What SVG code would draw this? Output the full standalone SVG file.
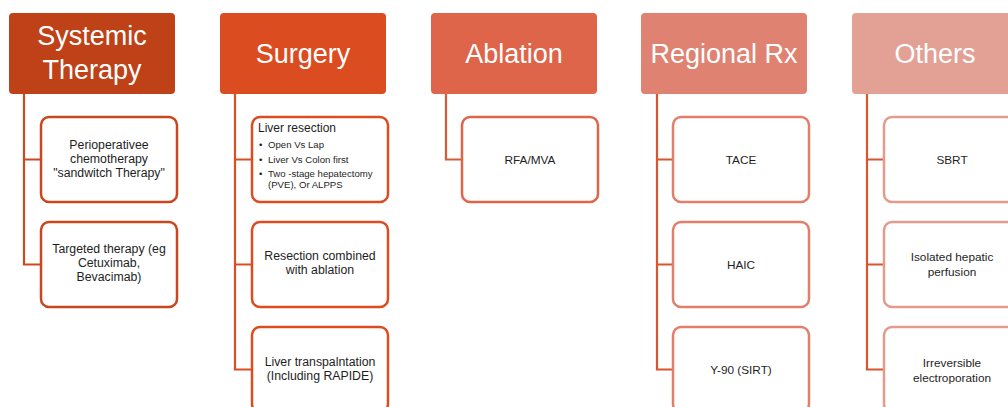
<svg xmlns="http://www.w3.org/2000/svg" width="1008" height="407" viewBox="0 0 1008 407">
<style>
.hd{font-family:"Liberation Sans",Arial,sans-serif;font-size:27px;fill:#ffffff;text-anchor:middle}
.ch{font-family:"Liberation Sans",Arial,sans-serif;font-size:12.3px;fill:#1e1e1e;text-anchor:middle}
.sm{font-size:11.8px}
.bl{font-family:"Liberation Sans",Arial,sans-serif;font-size:9.6px;fill:#1e1e1e}
.box{fill:#ffffff;stroke-width:2.5}
.con{fill:none;stroke-width:2.2}
</style>
<rect width="1008" height="407" fill="#ffffff"/>
<g id="connectors">
<path class="con" stroke="#CB4A20" d="M24,94 V264.5 H41 M24,159.5 H41"/>
<path class="con" stroke="#DB4E24" d="M235,94 V369.5 H252 M235,159.5 H252 M235,264.5 H252"/>
<path class="con" stroke="#DA5A36" d="M446,94 V159.5 H462"/>
<path class="con" stroke="#D9552D" d="M657,94 V369.5 H673 M657,159.5 H673 M657,264.5 H673"/>
<path class="con" stroke="#D9552D" d="M867,94 V369.5 H884 M867,159.5 H884 M867,264.5 H884"/>
</g>
<g id="h1"><rect x="9" y="13" width="166" height="81" rx="4" fill="#BF4118"/>
<text class="hd" x="92" y="45">Systemic</text><text class="hd" x="92" y="79">Therapy</text></g>
<g id="h2"><rect x="220" y="13" width="166" height="81" rx="4" fill="#DC4C21"/>
<text class="hd" x="303" y="63">Surgery</text></g>
<g id="h3"><rect x="431" y="13" width="166" height="81" rx="4" fill="#DE644A"/>
<text class="hd" x="514" y="63">Ablation</text></g>
<g id="h4"><rect x="641" y="13" width="166" height="81" rx="4" fill="#E08272"/>
<text class="hd" x="724" y="63">Regional Rx</text></g>
<g id="h5"><rect x="852" y="13" width="166" height="81" rx="4" fill="#E3A196"/>
<text class="hd" x="935" y="63">Others</text></g>

<g id="c1a"><rect class="box" stroke="#C8471E" x="41" y="117" width="136" height="85" rx="8"/>
<text class="ch" x="109" y="149">Perioperativee</text><text class="ch" x="109" y="163">chemotherapy</text><text class="ch" x="109" y="177">"sandwitch Therapy"</text></g>
<g id="c1b"><rect class="box" stroke="#C8471E" x="41" y="222" width="136" height="85" rx="8"/>
<text class="ch" x="109" y="253">Targeted therapy (eg</text><text class="ch" x="109" y="267">Cetuximab,</text><text class="ch" x="109" y="281">Bevacimab)</text></g>

<g id="c2a"><rect class="box" stroke="#DC4C21" x="252" y="117" width="136" height="85" rx="8"/>
<text class="ch" x="258" y="132" style="text-anchor:start;font-size:12px">Liver resection</text>
<text class="bl" x="259" y="148">•</text><text class="bl" x="268" y="148">Open Vs Lap</text>
<text class="bl" x="259" y="163">•</text><text class="bl" x="268" y="163">Liver Vs Colon first</text>
<text class="bl" x="259" y="177">•</text><text class="bl" x="268" y="177">Two -stage hepatectomy</text>
<text class="bl" x="268" y="188">(PVE), Or  ALPPS</text></g>
<g id="c2b"><rect class="box" stroke="#DC4C21" x="252" y="222" width="136" height="85" rx="8"/>
<text class="ch" x="320" y="260">Resection combined</text><text class="ch" x="320" y="274">with ablation</text></g>
<g id="c2c"><rect class="box" stroke="#DC4C21" x="252" y="327" width="136" height="85" rx="8"/>
<text class="ch" x="320" y="366">Liver transpalntation</text><text class="ch" x="320" y="380">(Including RAPIDE)</text></g>

<g id="c3a"><rect class="box" stroke="#DF6548" x="462" y="117" width="136" height="85" rx="8"/>
<text class="ch sm" x="530" y="164">RFA/MVA</text></g>

<g id="c4a"><rect class="box" stroke="#E17F6A" x="673" y="117" width="136" height="85" rx="8"/>
<text class="ch sm" x="741" y="164">TACE</text></g>
<g id="c4b"><rect class="box" stroke="#E17F6A" x="673" y="222" width="136" height="85" rx="8"/>
<text class="ch sm" x="741" y="269">HAIC</text></g>
<g id="c4c"><rect class="box" stroke="#E17F6A" x="673" y="327" width="136" height="85" rx="8"/>
<text class="ch sm" x="741" y="374">Y-90 (SIRT)</text></g>

<g id="c5a"><rect class="box" stroke="#E49A8C" x="884" y="117" width="136" height="85" rx="8"/>
<text class="ch sm" x="952" y="164">SBRT</text></g>
<g id="c5b"><rect class="box" stroke="#E49A8C" x="884" y="222" width="136" height="85" rx="8"/>
<text class="ch sm" x="952" y="261">Isolated hepatic</text><text class="ch sm" x="952" y="276">perfusion</text></g>
<g id="c5c"><rect class="box" stroke="#E49A8C" x="884" y="327" width="136" height="85" rx="8"/>
<text class="ch sm" x="952" y="367">Irreversible</text><text class="ch sm" x="952" y="382">electroporation</text></g>
</svg>
